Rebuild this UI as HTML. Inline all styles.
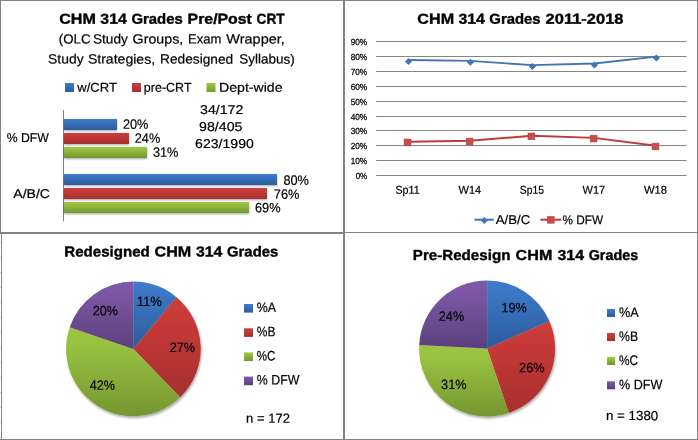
<!DOCTYPE html>
<html><head><meta charset="utf-8"><title>CHM 314 Grades</title>
<style>
html,body{margin:0;padding:0;background:#fff;}
body{width:698px;height:440px;overflow:hidden;font-family:"Liberation Sans",sans-serif;}
svg{display:block;will-change:transform;}
text{font-family:"Liberation Sans",sans-serif;text-rendering:geometricPrecision;}
</style></head>
<body>
<svg width="698" height="440" viewBox="0 0 698 440">
<rect width="698" height="440" fill="#fff"/>
<defs>
<linearGradient id="gb" x1="0" y1="0" x2="0" y2="1"><stop offset="0" stop-color="#3e7bcc"/><stop offset="0.2" stop-color="#3b76c5"/><stop offset="1" stop-color="#2c5c9b"/></linearGradient>
<linearGradient id="db" x1="0" y1="0" x2="1" y2="1"><stop offset="0" stop-color="#3e7bcc"/><stop offset="1" stop-color="#2c5c9b"/></linearGradient>
<linearGradient id="gr" x1="0" y1="0" x2="0" y2="1"><stop offset="0" stop-color="#cc3e3b"/><stop offset="0.2" stop-color="#c83a38"/><stop offset="1" stop-color="#a6302e"/></linearGradient>
<linearGradient id="dr" x1="0" y1="0" x2="1" y2="1"><stop offset="0" stop-color="#cc3e3b"/><stop offset="1" stop-color="#a6302e"/></linearGradient>
<linearGradient id="gg" x1="0" y1="0" x2="0" y2="1"><stop offset="0" stop-color="#9cc545"/><stop offset="0.2" stop-color="#98c140"/><stop offset="1" stop-color="#759631"/></linearGradient>
<linearGradient id="dg" x1="0" y1="0" x2="1" y2="1"><stop offset="0" stop-color="#9cc545"/><stop offset="1" stop-color="#759631"/></linearGradient>
<linearGradient id="gp" x1="0" y1="0" x2="0" y2="1"><stop offset="0" stop-color="#7d5aa7"/><stop offset="0.2" stop-color="#7a57a3"/><stop offset="1" stop-color="#5b407c"/></linearGradient>
<linearGradient id="dp" x1="0" y1="0" x2="1" y2="1"><stop offset="0" stop-color="#7d5aa7"/><stop offset="1" stop-color="#5b407c"/></linearGradient>
<filter id="sh" x="-10%" y="-40%" width="120%" height="200%"><feGaussianBlur in="SourceAlpha" stdDeviation="1.1"/><feOffset dx="0.35" dy="1.4"/><feComponentTransfer><feFuncA type="linear" slope="0.36"/></feComponentTransfer><feMerge><feMergeNode/><feMergeNode in="SourceGraphic"/></feMerge></filter>
<filter id="shp" x="-10%" y="-10%" width="120%" height="120%"><feGaussianBlur in="SourceAlpha" stdDeviation="1.3"/><feOffset dx="0.7" dy="1.5"/><feComponentTransfer><feFuncA type="linear" slope="0.32"/></feComponentTransfer><feMerge><feMergeNode/><feMergeNode in="SourceGraphic"/></feMerge></filter>
</defs>
<g fill="#828485" shape-rendering="crispEdges">
<rect x="0" y="0" width="698" height="1"/>
<rect x="0" y="439" width="698" height="1"/>
<rect x="0" y="0" width="1" height="233"/>
<rect x="1" y="233" width="1" height="207"/>
<rect x="697" y="0" width="1" height="440"/>
<rect x="343" y="0" width="2" height="440"/>
<rect x="0" y="232" width="345" height="2"/>
<rect x="345" y="232" width="353" height="1"/>
<rect x="0" y="242" width="1" height="1" fill="#d9d9d9"/>
<rect x="0" y="257" width="1" height="1" fill="#d9d9d9"/>
<rect x="0" y="272" width="1" height="1" fill="#d9d9d9"/>
<rect x="0" y="287" width="1" height="1" fill="#d9d9d9"/>
<rect x="0" y="302" width="1" height="1" fill="#d9d9d9"/>
<rect x="0" y="317" width="1" height="1" fill="#d9d9d9"/>
<rect x="0" y="332" width="1" height="1" fill="#d9d9d9"/>
<rect x="0" y="347" width="1" height="1" fill="#d9d9d9"/>
<rect x="0" y="362" width="1" height="1" fill="#d9d9d9"/>
<rect x="0" y="377" width="1" height="1" fill="#d9d9d9"/>
<rect x="0" y="392" width="1" height="1" fill="#d9d9d9"/>
<rect x="0" y="407" width="1" height="1" fill="#d9d9d9"/>
<rect x="0" y="422" width="1" height="1" fill="#d9d9d9"/>
<rect x="0" y="437" width="1" height="1" fill="#d9d9d9"/>
</g>
<g font-family="Liberation Sans, sans-serif">
<text transform="matrix(1 0.0006 0 1 59.2 23.75)" font-size="14.5" font-weight="bold" stroke="#000" stroke-width="0.35" textLength="36.8" lengthAdjust="spacingAndGlyphs">CHM</text>
<text transform="matrix(1 0.0006 0 1 100.3 23.75)" font-size="14.5" font-weight="bold" stroke="#000" stroke-width="0.35" textLength="26.5" lengthAdjust="spacingAndGlyphs">314</text>
<text transform="matrix(1 0.0006 0 1 131.4 23.75)" font-size="14.5" font-weight="bold" stroke="#000" stroke-width="0.35" textLength="51.4" lengthAdjust="spacingAndGlyphs">Grades</text>
<text transform="matrix(1 0.0006 0 1 187.6 23.75)" font-size="14.5" font-weight="bold" stroke="#000" stroke-width="0.35" textLength="64.3" lengthAdjust="spacingAndGlyphs">Pre/Post</text>
<text transform="matrix(1 0.0006 0 1 256.6 23.75)" font-size="14.5" font-weight="bold" stroke="#000" stroke-width="0.35" textLength="28.1" lengthAdjust="spacingAndGlyphs">CRT</text>
<text transform="matrix(1 0.0006 0 1 58.8 43.5)" font-size="13.4" stroke="#000" stroke-width="0.2" textLength="31.7" lengthAdjust="spacingAndGlyphs">(OLC</text>
<text transform="matrix(1 0.0006 0 1 92.9 43.5)" font-size="13.4" stroke="#000" stroke-width="0.2" textLength="35.0" lengthAdjust="spacingAndGlyphs">Study</text>
<text transform="matrix(1 0.0006 0 1 132.6 43.5)" font-size="13.4" stroke="#000" stroke-width="0.2" textLength="50.6" lengthAdjust="spacingAndGlyphs">Groups,</text>
<text transform="matrix(1 0.0006 0 1 188.1 43.5)" font-size="13.4" stroke="#000" stroke-width="0.2" textLength="33.3" lengthAdjust="spacingAndGlyphs">Exam</text>
<text transform="matrix(1 0.0006 0 1 226.3 43.5)" font-size="13.4" stroke="#000" stroke-width="0.2" textLength="58.5" lengthAdjust="spacingAndGlyphs">Wrapper,</text>
<text transform="matrix(1 0.0006 0 1 48.0 63.6)" font-size="13.4" stroke="#000" stroke-width="0.2" textLength="35.6" lengthAdjust="spacingAndGlyphs">Study</text>
<text transform="matrix(1 0.0006 0 1 87.9 63.6)" font-size="13.4" stroke="#000" stroke-width="0.2" textLength="67.2" lengthAdjust="spacingAndGlyphs">Strategies,</text>
<text transform="matrix(1 0.0006 0 1 160.0 63.6)" font-size="13.4" stroke="#000" stroke-width="0.2" textLength="73.2" lengthAdjust="spacingAndGlyphs">Redesigned</text>
<text transform="matrix(1 0.0006 0 1 239.3 63.6)" font-size="13.4" stroke="#000" stroke-width="0.2" textLength="55.4" lengthAdjust="spacingAndGlyphs">Syllabus)</text>
<rect x="65" y="83" width="9" height="9" fill="url(#gb)"/>
<text transform="matrix(1 0.0006 0 1 77.3 91.8)" font-size="12.8" stroke="#000" stroke-width="0.2" textLength="39.7" lengthAdjust="spacingAndGlyphs">w/CRT</text>
<rect x="132" y="83" width="9" height="9" fill="url(#gr)"/>
<text transform="matrix(1 0.0006 0 1 143.8 91.8)" font-size="12.8" stroke="#000" stroke-width="0.2" textLength="47.8" lengthAdjust="spacingAndGlyphs">pre-CRT</text>
<rect x="206.5" y="83" width="9" height="9" fill="url(#gg)"/>
<text transform="matrix(1 0.0006 0 1 219.1 91.8)" font-size="12.8" stroke="#000" stroke-width="0.2" textLength="63.4" lengthAdjust="spacingAndGlyphs">Dept-wide</text>
<rect x="63" y="110" width="1" height="111.5" fill="#858585"/>
<rect x="64" y="119" width="53" height="11" fill="url(#gb)" filter="url(#sh)"/>
<rect x="64" y="133" width="65" height="11" fill="url(#gr)" filter="url(#sh)"/>
<rect x="64" y="147" width="83" height="11" fill="url(#gg)" filter="url(#sh)"/>
<rect x="64" y="174" width="213" height="11" fill="url(#gb)" filter="url(#sh)"/>
<rect x="64" y="188" width="203" height="11" fill="url(#gr)" filter="url(#sh)"/>
<rect x="64" y="202" width="185" height="11" fill="url(#gg)" filter="url(#sh)"/>
<text transform="matrix(1 0.0006 0 1 6.7 142)" font-size="12.8" stroke="#000" stroke-width="0.2" textLength="42.2" lengthAdjust="spacingAndGlyphs">% DFW</text>
<text transform="matrix(1 0.0006 0 1 13.3 198.0)" font-size="12.8" stroke="#000" stroke-width="0.2" textLength="36.7" lengthAdjust="spacingAndGlyphs">A/B/C</text>
<text transform="matrix(1 0.0006 0 1 122.9 128.7)" font-size="13.5" stroke="#000" stroke-width="0.2" textLength="25.6" lengthAdjust="spacingAndGlyphs">20%</text>
<text transform="matrix(1 0.0006 0 1 134.7 142.8)" font-size="13.5" stroke="#000" stroke-width="0.2" textLength="25.6" lengthAdjust="spacingAndGlyphs">24%</text>
<text transform="matrix(1 0.0006 0 1 152.9 156.8)" font-size="13.5" stroke="#000" stroke-width="0.2" textLength="25.6" lengthAdjust="spacingAndGlyphs">31%</text>
<text transform="matrix(1 0.0006 0 1 283.4 184.8)" font-size="13.5" stroke="#000" stroke-width="0.2" textLength="25.6" lengthAdjust="spacingAndGlyphs">80%</text>
<text transform="matrix(1 0.0006 0 1 273.8 198.8)" font-size="13.5" stroke="#000" stroke-width="0.2" textLength="25.6" lengthAdjust="spacingAndGlyphs">76%</text>
<text transform="matrix(1 0.0006 0 1 255.0 212.2)" font-size="13.5" stroke="#000" stroke-width="0.2" textLength="25.6" lengthAdjust="spacingAndGlyphs">69%</text>
<text transform="matrix(1 0.0006 0 1 200.0 113.9)" font-size="12.8" stroke="#000" stroke-width="0.2" textLength="43.4" lengthAdjust="spacingAndGlyphs">34/172</text>
<text transform="matrix(1 0.0006 0 1 199.1 130.9)" font-size="12.8" stroke="#000" stroke-width="0.2" textLength="43.3" lengthAdjust="spacingAndGlyphs">98/405</text>
<text transform="matrix(1 0.0006 0 1 195.1 147.9)" font-size="12.8" stroke="#000" stroke-width="0.2" textLength="58.7" lengthAdjust="spacingAndGlyphs">623/1990</text>
</g>
<g font-family="Liberation Sans, sans-serif">
<text transform="matrix(1 0.0006 0 1 417.3 23.65)" font-size="14.5" font-weight="bold" stroke="#000" stroke-width="0.35" textLength="36.8" lengthAdjust="spacingAndGlyphs">CHM</text>
<text transform="matrix(1 0.0006 0 1 458.4 23.65)" font-size="14.5" font-weight="bold" stroke="#000" stroke-width="0.35" textLength="26.5" lengthAdjust="spacingAndGlyphs">314</text>
<text transform="matrix(1 0.0006 0 1 489.3 23.65)" font-size="14.5" font-weight="bold" stroke="#000" stroke-width="0.35" textLength="51.3" lengthAdjust="spacingAndGlyphs">Grades</text>
<text transform="matrix(1 0.0006 0 1 545.6 23.65)" font-size="14.5" font-weight="bold" stroke="#000" stroke-width="0.35" textLength="77.9" lengthAdjust="spacingAndGlyphs">2011-2018</text>
<g fill="#858585">
<rect x="376.2" y="175" width="310.4" height="1"/>
<rect x="376.2" y="160" width="310.4" height="1"/>
<rect x="376.2" y="145" width="310.4" height="1"/>
<rect x="376.2" y="130" width="310.4" height="1"/>
<rect x="376.2" y="116" width="310.4" height="1"/>
<rect x="376.2" y="101" width="310.4" height="1"/>
<rect x="376.2" y="86" width="310.4" height="1"/>
<rect x="376.2" y="71" width="310.4" height="1"/>
<rect x="376.2" y="56" width="310.4" height="1"/>
<rect x="376.2" y="41" width="310.4" height="1"/>
</g>
<text stroke="#000" stroke-width="0.25" transform="matrix(1 0.0006 0 1 355.7 179.0)" font-size="8.9" textLength="11.5" lengthAdjust="spacingAndGlyphs">0%</text>
<text stroke="#000" stroke-width="0.25" transform="matrix(1 0.0006 0 1 350.7 164.0)" font-size="8.9" textLength="16.5" lengthAdjust="spacingAndGlyphs">10%</text>
<text stroke="#000" stroke-width="0.25" transform="matrix(1 0.0006 0 1 350.7 149.0)" font-size="8.9" textLength="16.5" lengthAdjust="spacingAndGlyphs">20%</text>
<text stroke="#000" stroke-width="0.25" transform="matrix(1 0.0006 0 1 350.7 134.0)" font-size="8.9" textLength="16.5" lengthAdjust="spacingAndGlyphs">30%</text>
<text stroke="#000" stroke-width="0.25" transform="matrix(1 0.0006 0 1 350.7 120.0)" font-size="8.9" textLength="16.5" lengthAdjust="spacingAndGlyphs">40%</text>
<text stroke="#000" stroke-width="0.25" transform="matrix(1 0.0006 0 1 350.7 105.0)" font-size="8.9" textLength="16.5" lengthAdjust="spacingAndGlyphs">50%</text>
<text stroke="#000" stroke-width="0.25" transform="matrix(1 0.0006 0 1 350.7 90.0)" font-size="8.9" textLength="16.5" lengthAdjust="spacingAndGlyphs">60%</text>
<text stroke="#000" stroke-width="0.25" transform="matrix(1 0.0006 0 1 350.7 75.0)" font-size="8.9" textLength="16.5" lengthAdjust="spacingAndGlyphs">70%</text>
<text stroke="#000" stroke-width="0.25" transform="matrix(1 0.0006 0 1 350.7 60.0)" font-size="8.9" textLength="16.5" lengthAdjust="spacingAndGlyphs">80%</text>
<text stroke="#000" stroke-width="0.25" transform="matrix(1 0.0006 0 1 350.7 45.0)" font-size="8.9" textLength="16.5" lengthAdjust="spacingAndGlyphs">90%</text>
<text transform="matrix(1 0.0006 0 1 395.5 193.8)" font-size="11.4" stroke="#000" stroke-width="0.2" textLength="24.1" lengthAdjust="spacingAndGlyphs">Sp11</text>
<text transform="matrix(1 0.0006 0 1 458.6 193.8)" font-size="11.4" stroke="#000" stroke-width="0.2" textLength="22.5" lengthAdjust="spacingAndGlyphs">W14</text>
<text transform="matrix(1 0.0006 0 1 519.8 193.8)" font-size="11.4" stroke="#000" stroke-width="0.2" textLength="24.1" lengthAdjust="spacingAndGlyphs">Sp15</text>
<text transform="matrix(1 0.0006 0 1 582.55 193.8)" font-size="11.4" stroke="#000" stroke-width="0.2" textLength="22.6" lengthAdjust="spacingAndGlyphs">W17</text>
<text transform="matrix(1 0.0006 0 1 644.05 193.8)" font-size="11.4" stroke="#000" stroke-width="0.2" textLength="23.0" lengthAdjust="spacingAndGlyphs">W18</text>
<polyline fill="none" stroke="#4274b8" stroke-width="1.9" stroke-linejoin="round" points="408.5,60.0 470.4,60.9 532.4,65.1 594.4,63.5 656.4,56.6"/>
<path d="M404.9,61.4 L408.5,57.9 L412.1,61.4 L408.5,64.9Z" fill="#4274b8"/>
<path d="M466.79999999999995,62.3 L470.4,58.8 L474.0,62.3 L470.4,65.8Z" fill="#4274b8"/>
<path d="M528.8,66.5 L532.4,63.0 L536.0,66.5 L532.4,70.0Z" fill="#4274b8"/>
<path d="M590.8,64.9 L594.4,61.400000000000006 L598.0,64.9 L594.4,68.4Z" fill="#4274b8"/>
<path d="M652.8,58.0 L656.4,54.5 L660.0,58.0 L656.4,61.5Z" fill="#4274b8"/>
<polyline fill="none" stroke="#be3b3b" stroke-width="1.9" stroke-linejoin="round" points="408.0,141.7 470.1,140.8 531.9,135.7 594.1,137.9 656.0,145.8"/>
<rect x="404.1" y="139.05" width="6.8" height="6.7" fill="#c3504e" stroke="#be3b3b" stroke-width="0.6"/>
<rect x="466.2" y="138.15" width="6.8" height="6.7" fill="#c3504e" stroke="#be3b3b" stroke-width="0.6"/>
<rect x="528.0" y="133.05" width="6.8" height="6.7" fill="#c3504e" stroke="#be3b3b" stroke-width="0.6"/>
<rect x="590.2" y="135.25" width="6.8" height="6.7" fill="#c3504e" stroke="#be3b3b" stroke-width="0.6"/>
<rect x="652.1" y="143.15" width="6.8" height="6.7" fill="#c3504e" stroke="#be3b3b" stroke-width="0.6"/>
<rect x="474.4" y="218.7" width="19.5" height="2" fill="#4274b8"/>
<path d="M480.7,220.6 L484.3,217.1 L487.90000000000003,220.6 L484.3,224.1Z" fill="#4274b8"/>
<text transform="matrix(1 0.0006 0 1 495.8 224.1)" font-size="12.8" stroke="#000" stroke-width="0.2" textLength="34.5" lengthAdjust="spacingAndGlyphs">A/B/C</text>
<rect x="540.4" y="218.7" width="20.9" height="2" fill="#be3b3b"/>
<rect x="547.4" y="216.5" width="6.8" height="6.7" fill="#c3504e" stroke="#be3b3b" stroke-width="0.6"/>
<text transform="matrix(1 0.0006 0 1 562.5 224.2)" font-size="12.8" stroke="#000" stroke-width="0.2" textLength="40.6" lengthAdjust="spacingAndGlyphs">% DFW</text>
</g>
<g font-family="Liberation Sans, sans-serif">
<text transform="matrix(1 0.0006 0 1 64.3 256.5)" font-size="14.5" font-weight="bold" stroke="#000" stroke-width="0.35" textLength="85.5" lengthAdjust="spacingAndGlyphs">Redesigned</text>
<text transform="matrix(1 0.0006 0 1 154.5 256.5)" font-size="14.5" font-weight="bold" stroke="#000" stroke-width="0.35" textLength="36.8" lengthAdjust="spacingAndGlyphs">CHM</text>
<text transform="matrix(1 0.0006 0 1 195.9 256.5)" font-size="14.5" font-weight="bold" stroke="#000" stroke-width="0.35" textLength="26.5" lengthAdjust="spacingAndGlyphs">314</text>
<text transform="matrix(1 0.0006 0 1 227.0 256.5)" font-size="14.5" font-weight="bold" stroke="#000" stroke-width="0.35" textLength="51.3" lengthAdjust="spacingAndGlyphs">Grades</text>
<g filter="url(#shp)">
<path d="M133.4,348.9 L133.40,281.60 A67.3,67.3 0 0 1 176.45,297.17Z" fill="url(#gb)"/>
<path d="M133.4,348.9 L176.45,297.17 A67.3,67.3 0 0 1 180.11,397.35Z" fill="url(#gr)"/>
<path d="M133.4,348.9 L180.11,397.35 A67.3,67.3 0 0 1 69.70,327.17Z" fill="url(#gg)"/>
<path d="M133.4,348.9 L69.70,327.17 A67.3,67.3 0 0 1 133.40,281.60Z" fill="url(#gp)"/>
</g>
<text transform="matrix(1 0.0006 0 1 136.7 306)" font-size="13.5" stroke="#000" stroke-width="0.2" textLength="25.3" lengthAdjust="spacingAndGlyphs">11%</text>
<text transform="matrix(1 0.0006 0 1 169.8 351.9)" font-size="13.5" stroke="#000" stroke-width="0.2" textLength="25.3" lengthAdjust="spacingAndGlyphs">27%</text>
<text transform="matrix(1 0.0006 0 1 89.8 389.8)" font-size="13.5" stroke="#000" stroke-width="0.2" textLength="25.3" lengthAdjust="spacingAndGlyphs">42%</text>
<text transform="matrix(1 0.0006 0 1 92.7 315.3)" font-size="13.5" stroke="#000" stroke-width="0.2" textLength="25.3" lengthAdjust="spacingAndGlyphs">20%</text>
<rect x="244" y="304" width="9" height="8.6" fill="url(#gb)"/>
<text transform="matrix(1 0.0006 0 1 256.8 312.0)" font-size="13.8" stroke="#000" stroke-width="0.2" textLength="19.2" lengthAdjust="spacingAndGlyphs">%A</text>
<rect x="244" y="328.3" width="9" height="8.6" fill="url(#gr)"/>
<text transform="matrix(1 0.0006 0 1 256.8 336.3)" font-size="13.8" stroke="#000" stroke-width="0.2" textLength="18.6" lengthAdjust="spacingAndGlyphs">%B</text>
<rect x="244" y="352.4" width="9" height="8.6" fill="url(#gg)"/>
<text transform="matrix(1 0.0006 0 1 256.8 360.4)" font-size="13.8" stroke="#000" stroke-width="0.2" textLength="18.6" lengthAdjust="spacingAndGlyphs">%C</text>
<rect x="244" y="376.6" width="9" height="8.6" fill="url(#gp)"/>
<text transform="matrix(1 0.0006 0 1 256.8 384.6)" font-size="13.8" stroke="#000" stroke-width="0.2" textLength="42.7" lengthAdjust="spacingAndGlyphs">% DFW</text>
<text transform="matrix(1 0.0006 0 1 246.1 422.7)" font-size="13.2" stroke="#000" stroke-width="0.2" textLength="43.9" lengthAdjust="spacingAndGlyphs">n = 172</text>
</g>
<g font-family="Liberation Sans, sans-serif">
<text transform="matrix(1 0.0006 0 1 412.8 260.0)" font-size="14.5" font-weight="bold" stroke="#000" stroke-width="0.35" textLength="97.6" lengthAdjust="spacingAndGlyphs">Pre-Redesign</text>
<text transform="matrix(1 0.0006 0 1 515.6 260.0)" font-size="14.5" font-weight="bold" stroke="#000" stroke-width="0.35" textLength="36.8" lengthAdjust="spacingAndGlyphs">CHM</text>
<text transform="matrix(1 0.0006 0 1 557.5 260.0)" font-size="14.5" font-weight="bold" stroke="#000" stroke-width="0.35" textLength="26.5" lengthAdjust="spacingAndGlyphs">314</text>
<text transform="matrix(1 0.0006 0 1 588.7 260.0)" font-size="14.5" font-weight="bold" stroke="#000" stroke-width="0.35" textLength="49.5" lengthAdjust="spacingAndGlyphs">Grades</text>
<g filter="url(#shp)">
<path d="M487.1,348.45 L487.10,280.45 A68.0,68.0 0 0 1 549.42,321.25Z" fill="url(#gb)"/>
<path d="M487.1,348.45 L549.42,321.25 A68.0,68.0 0 0 1 508.80,412.89Z" fill="url(#gr)"/>
<path d="M487.1,348.45 L508.80,412.89 A68.0,68.0 0 0 1 419.19,344.99Z" fill="url(#gg)"/>
<path d="M487.1,348.45 L419.19,344.99 A68.0,68.0 0 0 1 487.10,280.45Z" fill="url(#gp)"/>
</g>
<text transform="matrix(1 0.0006 0 1 501.5 312.3)" font-size="13.5" stroke="#000" stroke-width="0.2" textLength="25.4" lengthAdjust="spacingAndGlyphs">19%</text>
<text transform="matrix(1 0.0006 0 1 519.1 372.2)" font-size="13.5" stroke="#000" stroke-width="0.2" textLength="25.4" lengthAdjust="spacingAndGlyphs">26%</text>
<text transform="matrix(1 0.0006 0 1 441.1 389.1)" font-size="13.5" stroke="#000" stroke-width="0.2" textLength="25.4" lengthAdjust="spacingAndGlyphs">31%</text>
<text transform="matrix(1 0.0006 0 1 438.8 320.7)" font-size="13.5" stroke="#000" stroke-width="0.2" textLength="25.4" lengthAdjust="spacingAndGlyphs">24%</text>
<rect x="607" y="309" width="8" height="8" fill="url(#gb)"/>
<text transform="matrix(1 0.0006 0 1 619.0 316.9)" font-size="13.8" stroke="#000" stroke-width="0.2" textLength="19.7" lengthAdjust="spacingAndGlyphs">%A</text>
<rect x="607" y="333" width="8" height="8" fill="url(#gr)"/>
<text transform="matrix(1 0.0006 0 1 619.0 340.9)" font-size="13.8" stroke="#000" stroke-width="0.2" textLength="19.1" lengthAdjust="spacingAndGlyphs">%B</text>
<rect x="607" y="357" width="8" height="8" fill="url(#gg)"/>
<text transform="matrix(1 0.0006 0 1 619.0 364.9)" font-size="13.8" stroke="#000" stroke-width="0.2" textLength="19.1" lengthAdjust="spacingAndGlyphs">%C</text>
<rect x="607" y="381.3" width="8" height="8" fill="url(#gp)"/>
<text transform="matrix(1 0.0006 0 1 619.0 389.2)" font-size="13.8" stroke="#000" stroke-width="0.2" textLength="43.3" lengthAdjust="spacingAndGlyphs">% DFW</text>
<text transform="matrix(1 0.0006 0 1 606.0 420.1)" font-size="13.2" stroke="#000" stroke-width="0.2" textLength="52.2" lengthAdjust="spacingAndGlyphs">n = 1380</text>
</g>
</svg>
</body></html>
